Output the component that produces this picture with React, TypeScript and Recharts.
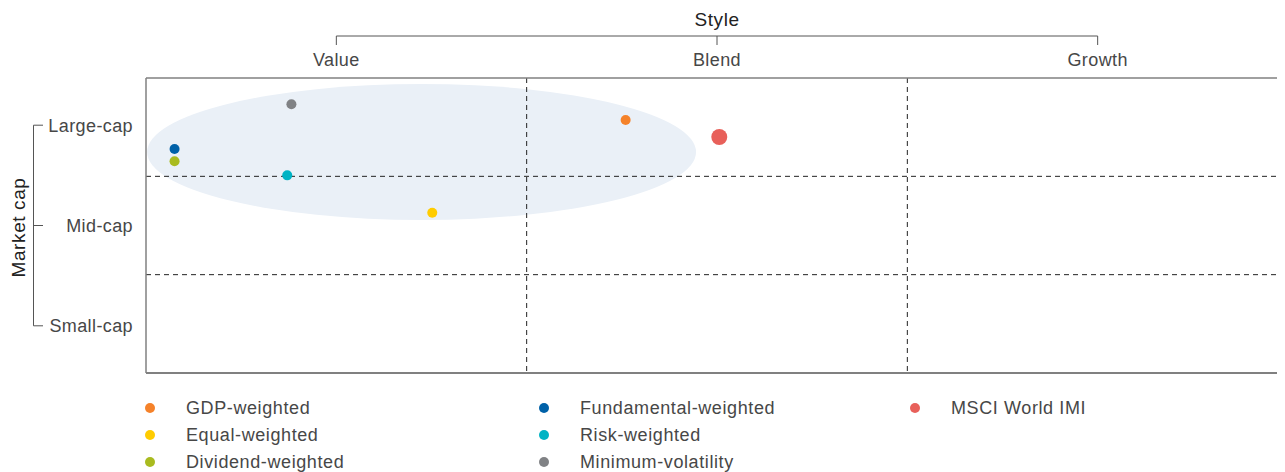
import React from 'react';
import { ScatterChart, Scatter, XAxis, YAxis, ReferenceLine, ReferenceArea, Legend } from 'recharts';

// ---- data ----
const styleCategories = ['Value', 'Blend', 'Growth'];
const styleTickValues = [0.5, 1.5, 2.5];
const capCategories = ['Large-cap', 'Mid-cap', 'Small-cap'];
const capTickValues = [2.52, 1.5, 0.48];
const styleDividers = [1, 2];
const capDividers = [1, 2];

const seriesNames = [
  'GDP-weighted',
  'Equal-weighted',
  'Dividend-weighted',
  'Fundamental-weighted',
  'Risk-weighted',
  'Minimum-volatility',
  'MSCI World IMI',
];
const seriesStyle = [1.26, 0.752, 0.075, 0.075, 0.371, 0.382, 1.506];
const seriesCap = [2.573, 1.63, 2.153, 2.278, 2.01, 2.733, 2.4];
const seriesColors = ['#f5822a', '#ffcc00', '#a9bb1f', '#0061a8', '#00b3c4', '#808285', '#e8605a'];
const seriesRadius = [5, 5, 5, 5, 5, 5, 8];

const clusterStyleRange = [0.003, 1.445];
const clusterCapRange = [1.556, 2.939];

const legendColumns = [
  [0, 1, 2],
  [3, 4, 5],
  [6],
];

// ---- layout / style ----
const CHART_W = 1280;
const CHART_H = 464;
const Y_AXIS_W = 138;
const X_AXIS_H = 70;
const LEGEND_H = 99;
const PLOT_W = CHART_W - Y_AXIS_W;
const PLOT_H = CHART_H - X_AXIS_H - LEGEND_H;
const FONT = '"Liberation Sans", Arial, Helvetica, sans-serif';
const TEXT = '#474747';
const TITLE = '#222222';
const BRACKET = '#555555';
const BORDER = '#808080';

const XTick = (props: any) => {
  const { x, payload, index } = props;
  const step = (PLOT_W / 3) * (styleTickValues[1] - styleTickValues[0]);
  const label = styleCategories[styleTickValues.indexOf(payload.value)];
  return (
    <g>
      {index === 1 && (
        <>
          <line x1={x - step} x2={x + step} y1={28} y2={28} stroke={BRACKET} strokeWidth={1} />
          <text x={x} y={17.5} textAnchor="middle" fontFamily={FONT} fontSize={19} fill={TITLE} letterSpacing={0.6}>
            Style
          </text>
        </>
      )}
      <line x1={x} x2={x} y1={28} y2={37} stroke={BRACKET} strokeWidth={1} />
      <text x={x} y={57.5} textAnchor="middle" fontFamily={FONT} fontSize={18} fill={TEXT} letterSpacing={0.4}>
        {label}
      </text>
    </g>
  );
};

const YTick = (props: any) => {
  const { y, payload, index } = props;
  const step = (PLOT_H / 3) * (capTickValues[0] - capTickValues[1]);
  const label = capCategories[capTickValues.indexOf(payload.value)];
  return (
    <g>
      {index === 1 && (
        <>
          <line x1={25.5} x2={25.5} y1={y - step} y2={y + step} stroke={BRACKET} strokeWidth={1} />
          <text
            x={17}
            y={219.5}
            transform="rotate(-90 17 219.5)"
            textAnchor="middle"
            fontFamily={FONT}
            fontSize={19}
            fill={TITLE}
            letterSpacing={0.6}
          >
            Market cap
          </text>
        </>
      )}
      <line x1={25.5} x2={35} y1={y} y2={y} stroke={BRACKET} strokeWidth={1} />
      <text x={125} y={y + 6.3} textAnchor="end" fontFamily={FONT} fontSize={18} fill={TEXT} letterSpacing={0.4}>
        {label}
      </text>
    </g>
  );
};

const colDot = [142, 536, 906.5];
const colText = [178, 572, 943];
const rowCenter = [35.3, 62, 88.7];

const LegendBox = () => (
  <div style={{ position: 'relative', width: CHART_W, height: LEGEND_H, fontFamily: FONT }}>
    {legendColumns.map((col, ci) =>
      col.map((si, ri) => (
        <React.Fragment key={seriesNames[si]}>
          <div
            style={{
              position: 'absolute',
              left: colDot[ci] - 5,
              top: rowCenter[ri] - 5,
              width: 10,
              height: 10,
              borderRadius: 5,
              background: seriesColors[si],
            }}
          />
          <div
            style={{
              position: 'absolute',
              left: colText[ci],
              top: rowCenter[ri] - 13,
              height: 26,
              lineHeight: '26px',
              fontSize: 18,
              color: TEXT,
              letterSpacing: 0.6,
              whiteSpace: 'nowrap',
            }}
          >
            {seriesNames[si]}
          </div>
        </React.Fragment>
      ))
    )}
  </div>
);

export default function App() {
  return (
    <div style={{ width: 1277, height: CHART_H, overflow: 'hidden', position: 'relative' }}>
      <ScatterChart width={CHART_W} height={CHART_H} margin={{ top: 0, right: 0, bottom: 0, left: 0 }}>
        <XAxis
          type="number"
          dataKey="x"
          orientation="top"
          height={X_AXIS_H}
          domain={[0, 3]}
          ticks={styleTickValues}
          interval={0}
          tickLine={false}
          axisLine={{ stroke: BORDER, strokeWidth: 1.5 }}
          tick={(p: any) => <XTick {...p} />}
        />
        <YAxis
          type="number"
          dataKey="y"
          width={Y_AXIS_W}
          domain={[0, 3]}
          ticks={capTickValues}
          interval={0}
          tickLine={false}
          axisLine={{ stroke: BORDER, strokeWidth: 1.5 }}
          tick={(p: any) => <YTick {...p} />}
        />
        <ReferenceArea
          x1={clusterStyleRange[0]}
          x2={clusterStyleRange[1]}
          y1={clusterCapRange[0]}
          y2={clusterCapRange[1]}
          ifOverflow="visible"
          shape={(p: any) => (
            <ellipse
              cx={p.x + p.width / 2}
              cy={p.y + p.height / 2}
              rx={p.width / 2}
              ry={p.height / 2}
              fill="#eaf0f7"
            />
          )}
        />
        {styleDividers.map((v) => (
          <ReferenceLine key={'sx' + v} x={v} stroke="#222" strokeWidth={1} strokeDasharray="5 4" />
        ))}
        {capDividers.map((v) => (
          <ReferenceLine key={'cy' + v} y={v} stroke="#222" strokeWidth={1} strokeDasharray="5 4" />
        ))}
        <ReferenceLine y={0} stroke={BORDER} strokeWidth={2} />
        {seriesNames.map((name, i) => (
          <Scatter
            key={name}
            name={name}
            data={[{ x: seriesStyle[i], y: seriesCap[i] }]}
            fill={seriesColors[i]}
            isAnimationActive={false}
            shape={(p: any) => <circle cx={p.cx} cy={p.cy} r={seriesRadius[i]} fill={seriesColors[i]} />}
          />
        ))}
        <Legend
          verticalAlign="bottom"
          align="left"
          height={LEGEND_H}
          wrapperStyle={{ left: 0, bottom: 0, width: CHART_W, height: LEGEND_H }}
          content={() => <LegendBox />}
        />
      </ScatterChart>
    </div>
  );
}
